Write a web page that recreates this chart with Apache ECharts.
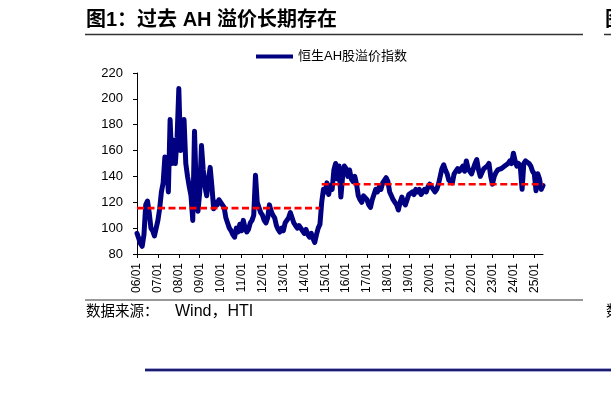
<!DOCTYPE html>
<html>
<head>
<meta charset="utf-8">
<script src="https://cdn.jsdelivr.net/npm/echarts@6/dist/echarts.min.js"></script>
<style>
html,body{margin:0;padding:0;background:#fff;}
#chart{width:611px;height:394px;}
</style>
</head>
<body>
<div id="chart"></div>
<script>
// Monthly values of the Hang Seng AH premium index, starting 2006-01
const startYear = 2006;
const seriesName = '恒生AH股溢价指数';
const values = [
  // 2006
  96, 92, 88, 86, 95, 118, 121, 112, 100, 98, 94, 100,
  // 2007
  106, 115, 128, 135, 155, 150, 128, 184, 150, 168, 150, 170,
  // 2008
  208, 160, 170, 184, 150, 140, 132, 125, 106, 175, 130, 113,
  // 2009
  128, 164, 145, 132, 125, 138, 147, 132, 115, 120, 118, 122,
  // 2010
  122, 118, 116, 108, 104, 100, 98, 95, 93, 100, 97, 103,
  // 2011
  98, 106, 100, 97, 99, 104, 106, 110, 141, 120, 116, 112,
  // 2012
  110, 106, 104, 108, 118, 113, 110, 108, 102, 99, 97, 100,
  // 2013
  98, 104, 106, 108, 112, 108, 104, 102, 100, 102, 100, 98,
  // 2014
  96, 99, 95, 93, 96, 92, 89, 95, 100, 103, 120, 130,
  // 2015
  128, 135, 126, 133, 130, 145, 150, 138, 148, 124, 140, 148,
  // 2016
  146, 140, 145, 138, 136, 140, 134, 125, 122, 120, 125, 126,
  // 2017
  122, 118, 116, 122, 126, 130, 128, 132, 130, 135, 134, 139,
  // 2018
  136, 128, 125, 122, 120, 118, 114, 120, 124, 120, 118, 122,
  // 2019
  126, 125, 128, 126, 130, 128, 130, 126, 125, 130, 128, 132,
  // 2020
  134, 133, 130, 128, 130, 134, 140, 146, 149, 145, 142, 137,
  // 2021
  136, 135, 142, 144, 146, 144, 146, 148, 144, 152, 146, 144,
  // 2022
  142, 146, 150, 153, 145, 140, 143, 146, 146, 148, 150, 140,
  // 2023
  134, 140, 143, 145, 144, 146, 145, 148, 147, 150, 152, 150,
  // 2024
  158, 152, 148, 150, 147, 130, 150, 152, 151, 150, 148, 144,
  // 2025
  142, 129, 142, 138, 130, 133
];
// Period averages (red dashed lines)
const avgStarts = ['2006-01', '2014-11'];
const avgEnds   = ['2014-10', '2025-06'];
const avgLevels = [115.5, 134];
// x tick labels (January of each year)
const xTickLabels = ['06/01','07/01','08/01','09/01','10/01','11/01','12/01','13/01','14/01','15/01',
  '16/01','17/01','18/01','19/01','20/01','21/01','22/01','23/01','24/01','25/01'];
const yMin = 80, yMax = 220, yStep = 20;

function monthIndex(s) {
  const [y, m] = s.split('-').map(Number);
  return (y - startYear) * 12 + (m - 1);
}
const tickPositions = xTickLabels.map(l => (2000 + parseInt(l.slice(0, 2), 10) - startYear) * 12);

const chart = echarts.init(document.getElementById('chart'), null, {renderer: 'canvas'});
const latinCjk = '"Liberation Sans", "Noto Sans CJK SC", sans-serif';

const avgSeries = avgLevels.map((lvl, k) => ({
  type: 'line',
  name: 'avg' + k,
  data: [[monthIndex(avgStarts[k]), lvl], [monthIndex(avgEnds[k]), lvl]],
  showSymbol: false,
  silent: true,
  z: 5,
  lineStyle: {color: '#ff0000', width: 2.6, type: [7, 3.5]}
}));

chart.setOption({
  animation: false,
  backgroundColor: '#ffffff',
  grid: {left: 137, right: 68, top: 73, bottom: 140, containLabel: false},
  legend: {
    data: [seriesName],
    left: 256, top: 50,
    icon: 'rect', itemWidth: 37, itemHeight: 4,
    padding: 0,
    textStyle: {fontSize: 13, color: '#000', fontFamily: latinCjk}
  },
  xAxis: {
    type: 'value',
    min: 0, max: values.length - 1, interval: 12,
    axisLine: {show: true, lineStyle: {color: '#000', width: 1}},
    axisTick: {show: true, length: 4, lineStyle: {color: '#000'}, customValues: tickPositions},
    axisLabel: {
      customValues: tickPositions,
      rotate: 90, margin: 9, fontSize: 12, color: '#000',
      fontFamily: '"Liberation Sans", Arial, sans-serif',
      formatter: v => xTickLabels[Math.round(v / 12)] || ''
    },
    splitLine: {show: false}
  },
  yAxis: {
    type: 'value',
    min: yMin, max: yMax, interval: yStep,
    axisLine: {show: true, lineStyle: {color: '#000', width: 1}},
    axisTick: {show: true, length: 4, lineStyle: {color: '#000'}},
    axisLabel: {margin: 14, fontSize: 13, color: '#000', fontFamily: '"Liberation Sans", Arial, sans-serif'},
    splitLine: {show: false}
  },
  series: [
    {
      type: 'line',
      name: seriesName,
      data: values.map((v, i) => [i, v]),
      showSymbol: false,
      z: 3,
      lineStyle: {color: '#000080', width: 5, join: 'round', cap: 'round'},
      itemStyle: {color: '#000080'}
    },
    ...avgSeries
  ],
  graphic: [
    {type: 'text', left: 86, top: 10, style: {text: '图1：过去 AH 溢价长期存在', font: 'bold 20px ' + latinCjk, fill: '#000'}},
    {type: 'line', shape: {x1: 85, y1: 34.5, x2: 583, y2: 34.5}, style: {stroke: '#333', lineWidth: 1.5}},
    {type: 'text', left: 605, top: 10, style: {text: '图', font: 'bold 20px ' + latinCjk, fill: '#000'}},
    {type: 'line', shape: {x1: 604, y1: 34.5, x2: 611, y2: 34.5}, style: {stroke: '#333', lineWidth: 1.5}},
    {type: 'line', shape: {x1: 85, y1: 300, x2: 583, y2: 300}, style: {stroke: '#333', lineWidth: 1.2}},
    {type: 'text', left: 86, top: 305, style: {text: '数据来源：', font: '14.5px ' + latinCjk, fill: '#000'}},
    {type: 'text', left: 175, top: 304, style: {text: 'Wind，HTI', font: '16px ' + latinCjk, fill: '#000'}},
    {type: 'text', left: 606, top: 305, style: {text: '数', font: '14.5px ' + latinCjk, fill: '#000'}},
    {type: 'line', shape: {x1: 145, y1: 370, x2: 611, y2: 370}, style: {stroke: '#a8a8d8', lineWidth: 4}},
    {type: 'line', shape: {x1: 145, y1: 370, x2: 611, y2: 370}, style: {stroke: '#1c1c6c', lineWidth: 2}}
  ]
});
</script>
</body>
</html>
